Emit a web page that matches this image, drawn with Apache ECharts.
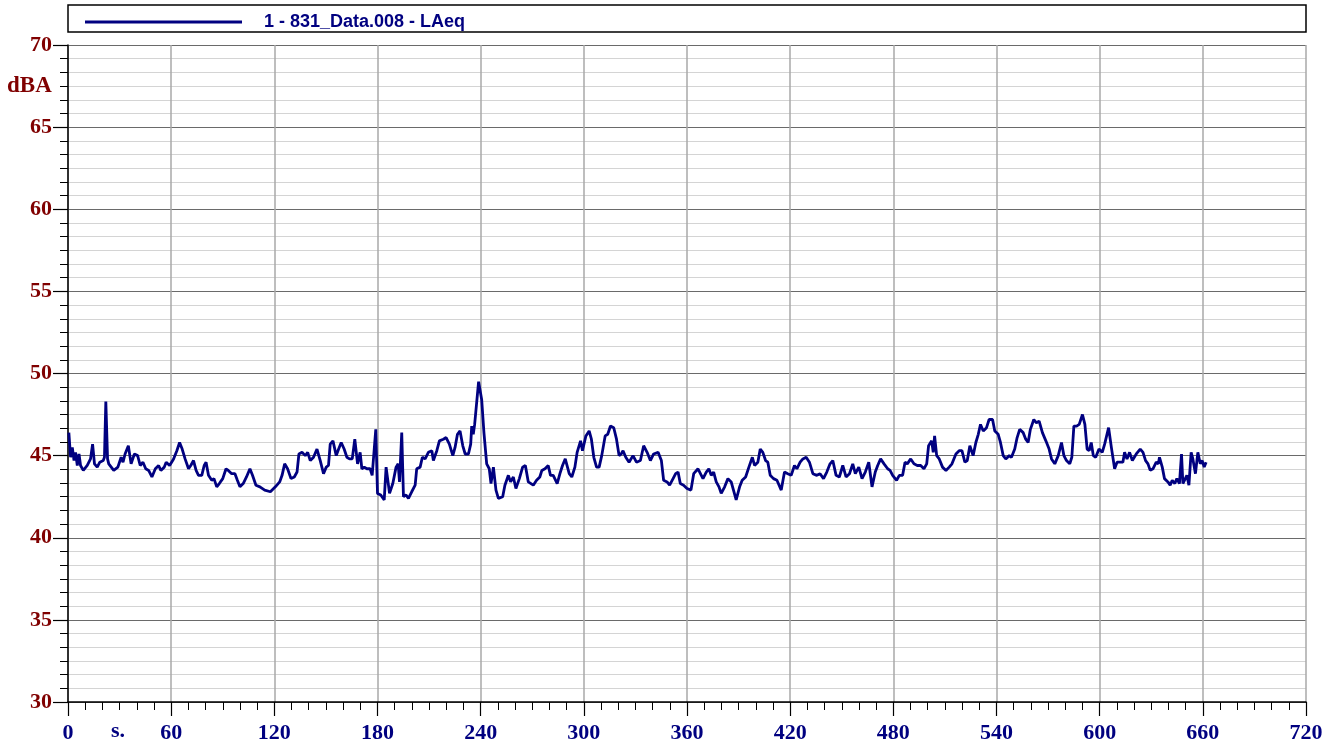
<!DOCTYPE html>
<html>
<head>
<meta charset="utf-8">
<script src="https://cdn.jsdelivr.net/npm/echarts@6/dist/echarts.min.js"></script>
<style>
  html, body { margin: 0; padding: 0; background: #fff; }
  #chart { width: 1338px; height: 745px; }
</style>
</head>
<body>
<div id="chart"></div>
<script>
// time in seconds, level in dBA
const times = [
  0.5, 1.5, 2.5, 3.5, 4.4, 5.4, 6.4, 7.3, 8.9, 11.2, 13.1, 14.3, 15.4, 17, 18.5, 20.5, 21.2, 22, 23, 23.7,
  26.6, 29, 30.9, 32, 33.2, 35.1, 36.7, 38.6, 40.5, 42, 43.6, 45.2, 46.9, 48.8, 50.8, 52.7, 54, 56, 57.1, 59.1,
  61.4, 63.3, 64.9, 66.4, 68.1, 70.1, 71.4, 73, 74.5, 75.9, 77.8, 79.2, 80.3, 81.7, 83.6, 84.9, 86.5, 88, 90, 91.9,
  93.2, 95.2, 97.1, 98.5, 100, 101.9, 103.8, 105.8, 107.3, 109.3, 111.6, 114.4, 117.7, 120.6, 123.1, 124.5, 126, 127.7, 129.7, 131.6,
  133.2, 134.3, 136.1, 138, 139.4, 140.9, 142.8, 144.8, 146.7, 148.6, 150.2, 151.5, 152.5, 154.1, 156, 157.4, 158.9, 160.6, 162.2, 163.7,
  165.3, 166.8, 168.4, 169.9, 170.9, 172.3, 173.8, 175.7, 176.9, 179, 180, 181.9, 183.9, 185, 187, 188.9, 190.8, 192, 192.8, 194.1,
  195.1, 196.6, 198, 199.9, 201.9, 202.8, 204.8, 206.1, 207.7, 209.6, 211.6, 212.5, 214.5, 216, 218.3, 219.9, 221.8, 223.8, 225.1, 226.5,
  228, 229.6, 231, 232.9, 234.2, 234.8, 235.7, 236.5, 238.8, 240.6, 241.9, 243.5, 245, 246, 247.4, 248.9, 250.3, 252.8, 254.1, 256.1,
  257.4, 259, 260.5, 262.5, 264.4, 266, 267.7, 270.6, 272.5, 274.4, 275.6, 277.4, 279.3, 280.6, 282.2, 284.5, 286.1, 287.6, 289.2, 290.3,
  291.5, 293, 294.8, 296.1, 298.1, 299.2, 301.2, 303.1, 304.4, 305.8, 307.4, 308.9, 310.4, 312.4, 313.9, 315.5, 317.4, 319, 320.5, 321.7,
  322.8, 324.4, 326.3, 328.6, 330.6, 332.9, 334.8, 336.8, 338.7, 340.6, 343.2, 345.1, 346.4, 348.4, 349.9, 351.9, 353.4, 354.8, 356.1, 358,
  360, 362.3, 363.9, 366.4, 369.3, 371.2, 372.7, 374.1, 375.5, 377, 378.6, 379.9, 381.9, 383.8, 385.7, 388.6, 390.6, 392.1, 394.1, 396,
  398, 399.3, 401.2, 402.6, 404.1, 405.7, 407, 408.4, 410.3, 412.3, 414.8, 416.7, 418.6, 420.6, 422.5, 423.9, 425.8, 427.4, 429.3, 431.2,
  433.2, 435.5, 437.4, 439.4, 441.3, 443.2, 444.8, 446.7, 448.6, 450.6, 452.5, 454.5, 456.4, 457.9, 459.9, 461.8, 463.7, 465.7, 467.6, 469.5,
  470.9, 472.6, 474.6, 476.7, 478.1, 479.6, 481.9, 483.5, 485.4, 486.8, 488.1, 490.1, 492, 493.9, 495.9, 497.8, 499.4, 500.5, 502.3, 503.2,
  504, 505.2, 506.7, 508.6, 510.6, 512.5, 514.1, 514.8, 516.4, 518.3, 519.9, 521.6, 523, 524.5, 526.4, 528, 529.4, 530.7, 532.3, 534.2,
  535.7, 537.7, 539, 541, 542.3, 543.9, 545.4, 547.4, 548.7, 550.6, 552, 553.5, 555.5, 557, 558.4, 559.7, 561.7, 563.2, 564.8, 566.7,
  568.7, 570.6, 572, 573.9, 575.9, 577.8, 579.2, 580.7, 582.6, 583.8, 585, 586.6, 588.1, 590, 591.4, 592.7, 593.9, 595.1, 596.3, 597.7,
  599.6, 601.5, 602.9, 603.9, 605.2, 606.8, 608.7, 610.1, 612, 613.5, 614.5, 615.9, 617.4, 619, 621.3, 623.6, 625.2, 626.7, 628.1, 629.4,
  631, 632.9, 634.1, 634.8, 636.4, 637.7, 639.7, 641, 642.2, 643.7, 644.9, 646.4, 647.6, 648.4, 649.5, 650.7, 651.9, 653.2, 654.2, 655.7,
  657.1, 658.5, 659.6, 660.8, 661.9
];
const laeq = [
  46.4, 44.9, 45.5, 44.7, 45.2, 44.4, 45.1, 44.4, 44.1, 44.4, 44.8, 45.7, 44.5, 44.3, 44.6, 44.7, 44.9, 48.3, 44.8, 44.5,
  44.1, 44.3, 44.9, 44.6, 45.1, 45.6, 44.5, 45.1, 45.0, 44.4, 44.6, 44.2, 44.1, 43.7, 44.2, 44.4, 44.1, 44.3, 44.6, 44.4,
  44.8, 45.3, 45.8, 45.4, 44.8, 44.2, 44.4, 44.7, 44.1, 43.8, 43.8, 44.4, 44.6, 43.8, 43.5, 43.6, 43.1, 43.3, 43.6, 44.2,
  44.1, 43.9, 43.9, 43.5, 43.1, 43.3, 43.7, 44.2, 43.8, 43.2, 43.1, 42.9, 42.8, 43.1, 43.4, 43.8, 44.5, 44.2, 43.6, 43.7,
  44.0, 45.1, 45.2, 45.0, 45.2, 44.7, 44.9, 45.4, 44.7, 43.9, 44.3, 44.4, 45.7, 45.9, 45.0, 45.4, 45.8, 45.4, 44.9, 44.8,
  44.8, 46.0, 44.5, 45.2, 44.2, 44.3, 44.2, 44.2, 43.8, 46.6, 42.7, 42.6, 42.3, 44.3, 42.7, 43.3, 44.3, 44.5, 43.4, 46.4,
  42.5, 42.6, 42.4, 42.8, 43.2, 44.2, 44.3, 44.9, 44.8, 45.2, 45.3, 44.7, 45.3, 45.9, 46.0, 46.1, 45.7, 45.0, 45.5, 46.3,
  46.5, 45.6, 45.1, 45.1, 45.7, 46.8, 46.3, 46.9, 49.5, 48.4, 46.4, 44.5, 44.2, 43.3, 44.3, 42.9, 42.4, 42.5, 43.2, 43.8,
  43.4, 43.7, 43.0, 43.6, 44.3, 44.4, 43.4, 43.2, 43.5, 43.7, 44.1, 44.2, 44.4, 43.8, 43.8, 43.3, 43.9, 44.4, 44.8, 44.7,
  43.9, 43.7, 44.3, 45.2, 45.9, 45.3, 46.2, 46.5, 46.0, 44.9, 44.3, 44.3, 45.0, 46.2, 46.3, 46.8, 46.7, 46.0, 45.0, 45.1,
  45.3, 44.9, 44.6, 45.0, 44.6, 44.7, 45.6, 45.2, 44.7, 45.1, 45.2, 44.7, 43.5, 43.4, 43.2, 43.6, 43.9, 44.0, 43.3, 43.2,
  43.0, 42.9, 43.9, 44.2, 43.6, 44.0, 44.2, 43.8, 44.0, 43.4, 43.1, 42.7, 43.1, 43.6, 43.4, 42.3, 43.1, 43.5, 43.7, 44.3,
  44.9, 44.4, 44.6, 45.4, 45.2, 44.7, 44.6, 43.8, 43.6, 43.5, 42.9, 44.0, 43.9, 43.8, 44.4, 44.2, 44.6, 44.8, 44.9, 44.6,
  43.9, 43.8, 43.9, 43.6, 44.0, 44.5, 44.7, 43.8, 43.7, 44.4, 43.7, 43.9, 44.5, 43.9, 44.3, 43.6, 44.0, 44.6, 43.1, 44.0,
  44.4, 44.8, 44.5, 44.2, 44.1, 43.8, 43.5, 43.8, 43.8, 44.6, 44.5, 44.8, 44.5, 44.4, 44.4, 44.2, 44.5, 45.6, 45.9, 45.2,
  46.2, 45.0, 44.8, 44.3, 44.1, 44.3, 44.5, 44.4, 45.1, 45.3, 45.3, 44.6, 44.7, 45.6, 45.0, 45.8, 46.3, 46.9, 46.5, 46.7,
  47.2, 47.2, 46.5, 46.3, 45.8, 45.0, 44.8, 45.0, 44.9, 45.4, 46.1, 46.6, 46.4, 46.0, 45.8, 46.6, 47.2, 47.0, 47.1, 46.4,
  45.9, 45.4, 44.8, 44.5, 45.0, 45.8, 45.0, 44.7, 44.5, 44.9, 46.8, 46.8, 46.9, 47.5, 46.9, 45.4, 45.3, 45.8, 45.0, 44.9,
  45.4, 45.2, 45.7, 45.6, 46.7, 45.5, 44.2, 44.6, 44.6, 44.6, 45.2, 44.8, 45.2, 44.7, 45.1, 45.4, 45.2, 44.7, 44.5, 44.1,
  44.2, 44.6, 44.5, 44.9, 44.3, 43.6, 43.4, 43.2, 43.5, 43.3, 43.6, 43.3, 45.1, 43.3, 43.2, 43.8, 43.2, 45.2, 44.8, 43.9,
  45.2, 44.5, 44.7, 44.3, 44.6
];
const xTicks = [0, 60, 120, 180, 240, 300, 360, 420, 480, 540, 600, 660, 720];
const yTicks = [30, 35, 40, 45, 50, 55, 60, 65, 70];
const seriesName = '1 - 831_Data.008 - LAeq';

const navy = '#000080';
const darkRed = '#800000';
const serif = '"Liberation Serif", "Times New Roman", serif';

const chart = echarts.init(document.getElementById('chart'), null, { renderer: 'canvas' });

chart.setOption({
  animation: false,
  backgroundColor: '#fff',
  grid: { left: 68, right: 32, top: 45, bottom: 43, containLabel: false },
  legend: {
    data: [{ name: seriesName, icon: 'rect' }],
    left: 80,
    top: 8,
    itemWidth: 157,
    itemHeight: 3,
    textStyle: {
      color: navy,
      fontFamily: 'Liberation Sans, Arial, sans-serif',
      fontWeight: 'bold',
      fontSize: 18,
      padding: [0, 0, 0, 17]
    }
  },
  graphic: [
    {
      type: 'rect',
      shape: { x: 68, y: 5, width: 1238, height: 27 },
      style: { fill: 'none', stroke: '#000', lineWidth: 1.5 },
      silent: true
    },
    {
      type: 'text',
      left: 7,
      top: 75,
      style: { text: 'dBA', fill: darkRed, font: 'bold 23px ' + serif }
    },
    {
      type: 'text',
      left: 111,
      top: 720,
      style: { text: 's.', fill: navy, font: 'bold 22px ' + serif }
    }
  ],
  xAxis: {
    type: 'value',
    min: xTicks[0],
    max: xTicks[xTicks.length - 1],
    interval: 60,
    axisLine: { show: true, onZero: false, lineStyle: { color: '#000', width: 1.5 } },
    axisTick: { show: true, length: 14, lineStyle: { color: '#000', width: 1.2 } },
    minorTick: { show: true, splitNumber: 6, length: 8, lineStyle: { color: '#000', width: 1 } },
    axisLabel: {
      margin: 20,
      color: navy,
      fontFamily: serif,
      fontWeight: 'bold',
      fontSize: 22
    },
    splitLine: { show: true, lineStyle: { color: '#a8a8a8', width: 1.5 } },
    minorSplitLine: { show: false }
  },
  yAxis: {
    type: 'value',
    min: yTicks[0],
    max: yTicks[yTicks.length - 1],
    interval: 5,
    axisLine: { show: true, lineStyle: { color: '#000', width: 1.5 } },
    axisTick: { show: true, length: 15, lineStyle: { color: '#000', width: 1.2 } },
    minorTick: { show: true, splitNumber: 6, length: 8, lineStyle: { color: '#000', width: 1 } },
    axisLabel: {
      margin: 16,
      color: darkRed,
      fontFamily: serif,
      fontWeight: 'bold',
      fontSize: 22
    },
    splitLine: { show: true, lineStyle: { color: '#6a6a6a', width: 1.2 } },
    minorSplitLine: { show: true, lineStyle: { color: '#d4d4d4', width: 1.2 } }
  },
  series: [
    {
      name: seriesName,
      type: 'line',
      showSymbol: false,
      symbol: 'none',
      data: times.map((t, i) => [t, laeq[i]]),
      itemStyle: { color: navy },
      lineStyle: { color: navy, width: 2.8 },
      z: 5
    }
  ]
});
</script>
</body>
</html>
